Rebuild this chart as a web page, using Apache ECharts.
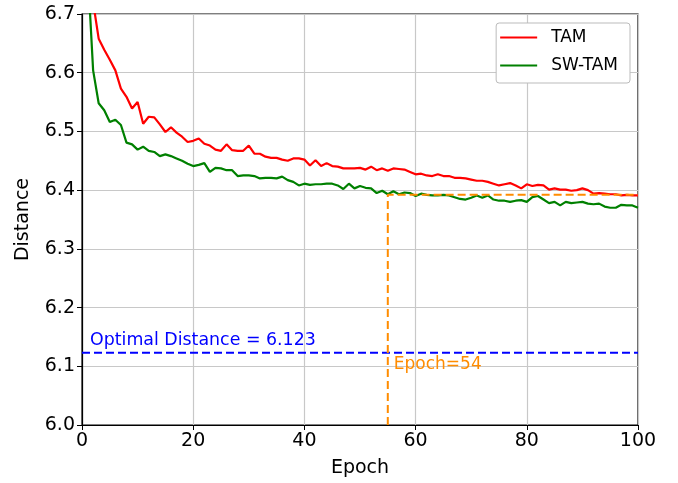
<!DOCTYPE html>
<html lang="en">
<head>
<meta charset="UTF-8">
<title>Distance vs Epoch</title>
<script src="https://cdn.jsdelivr.net/npm/echarts@6/dist/echarts.min.js"></script>
<style>
  body { margin: 0; background: #fff; }
  #main { width: 678px; height: 483px; }
</style>
</head>
<body>
<div id="main"></div>
<script>
// distance per epoch (epoch 1..100)
var tam = [
  6.80, 6.72, 6.658, 6.639, 6.622, 6.604, 6.573, 6.559, 6.539, 6.550,
  6.513, 6.525, 6.524, 6.512, 6.499, 6.507, 6.498, 6.491, 6.482, 6.484,
  6.488, 6.479, 6.476, 6.469, 6.467, 6.478, 6.468, 6.467, 6.467, 6.476,
  6.462, 6.462, 6.457, 6.455, 6.455, 6.452, 6.450, 6.454, 6.454, 6.452,
  6.442, 6.451, 6.441, 6.446, 6.441, 6.440, 6.437, 6.437, 6.437, 6.438,
  6.435, 6.440, 6.434, 6.437, 6.433, 6.437, 6.436, 6.435, 6.431, 6.427,
  6.428, 6.425, 6.424, 6.427, 6.424, 6.424, 6.421, 6.421, 6.420, 6.418,
  6.416, 6.416, 6.414, 6.411, 6.408, 6.410, 6.412, 6.408, 6.403, 6.410,
  6.407, 6.409, 6.408, 6.401, 6.403, 6.401, 6.401, 6.399, 6.400, 6.403,
  6.400, 6.394, 6.395, 6.394, 6.393, 6.393, 6.391, 6.392, 6.391, 6.391
];
var swTam = [
  6.78, 6.604, 6.548, 6.536, 6.516, 6.520, 6.511, 6.481, 6.478, 6.469,
  6.474, 6.467, 6.465, 6.458, 6.461, 6.458, 6.454, 6.450, 6.445, 6.441,
  6.443, 6.446, 6.431, 6.438, 6.437, 6.434, 6.434, 6.424, 6.425, 6.425,
  6.424, 6.420, 6.421, 6.421, 6.420, 6.423, 6.417, 6.414, 6.408, 6.411,
  6.409, 6.410, 6.410, 6.411, 6.411, 6.408, 6.402, 6.411, 6.403, 6.407,
  6.404, 6.403, 6.395, 6.399, 6.393, 6.398, 6.393, 6.396, 6.395, 6.390,
  6.394, 6.392, 6.391, 6.391, 6.392, 6.391, 6.388, 6.385, 6.384, 6.387,
  6.391, 6.387, 6.391, 6.384, 6.382, 6.382, 6.380, 6.382, 6.383, 6.380,
  6.388, 6.390, 6.384, 6.378, 6.380, 6.374, 6.380, 6.378, 6.379, 6.380,
  6.377, 6.376, 6.377, 6.372, 6.370, 6.370, 6.375, 6.374, 6.374, 6.370
];
var optimalDistance = 6.123;
var bestEpochX = 55;
var bestValue = 6.392;

function pairs(arr) {
  return arr.map(function (v, i) { return [i + 1, v]; });
}

var font = 'DejaVu Sans';
var chart = echarts.init(document.getElementById('main'));

var option = {
  backgroundColor: '#fff',
  animation: false,
  textStyle: { fontFamily: font },
  grid: {
    left: 82, right: 40, top: 14, bottom: 58,
    show: true, borderColor: '#000', borderWidth: 1.2
  },
  legend: {
    orient: 'vertical',
    right: 48, top: 23,
    data: ['TAM', 'SW-TAM'],
    icon: 'rect',
    itemWidth: 37, itemHeight: 2,
    itemGap: 11,
    padding: [6, 12, 9, 4],
    borderColor: '#bbb', borderWidth: 1, borderRadius: 3,
    backgroundColor: '#fff',
    formatter: '{t|{name}}',
    textStyle: {
      fontFamily: font, fontSize: 17, color: '#000',
      rich: { t: { fontFamily: font, fontSize: 17, color: '#000', padding: [0, 0, 0, 9] } }
    }
  },
  xAxis: {
    type: 'value', min: 0, max: 100, interval: 20,
    name: 'Epoch', nameLocation: 'middle', nameGap: 34,
    nameTextStyle: { fontFamily: font, fontSize: 19, color: '#000' },
    axisLine: { show: true, lineStyle: { color: '#000', width: 1.2 } },
    axisTick: { show: true, length: 5, lineStyle: { color: '#000' } },
    axisLabel: { fontFamily: font, fontSize: 19, color: '#000', margin: 7 },
    splitLine: { show: true, lineStyle: { color: '#c8c8c8', width: 1.2 } }
  },
  yAxis: {
    type: 'value', min: 6.0, max: 6.7, interval: 0.1,
    name: 'Distance', nameLocation: 'middle', nameGap: 49,
    nameTextStyle: { fontFamily: font, fontSize: 19, color: '#000' },
    axisLine: { show: true, lineStyle: { color: '#000', width: 1.2 } },
    axisTick: { show: true, length: 5, lineStyle: { color: '#000' } },
    axisLabel: {
      fontFamily: font, fontSize: 19, color: '#000', margin: 7,
      formatter: function (v) { return v.toFixed(1); }
    },
    splitLine: { show: true, lineStyle: { color: '#c8c8c8', width: 1.2 } }
  },
  series: [
    {
      name: 'TAM', type: 'line', data: pairs(tam),
      showSymbol: false, color: '#ff0000',
      lineStyle: { width: 2.2, color: '#ff0000' }, z: 3
    },
    {
      name: 'SW-TAM', type: 'line', data: pairs(swTam),
      showSymbol: false, color: '#008000',
      lineStyle: { width: 2.2, color: '#008000' }, z: 3
    },
    {
      name: 'optimal', type: 'line',
      data: [[0, optimalDistance], [100, optimalDistance]],
      showSymbol: false, silent: true,
      lineStyle: { width: 2, color: '#0000ff', type: [8, 4] }, z: 4
    },
    {
      name: 'best', type: 'line',
      data: [[bestEpochX, 6.0], [bestEpochX, bestValue], [100, bestValue]],
      showSymbol: false, silent: true,
      lineStyle: { width: 2, color: '#ff8c00', type: [8, 4] }, z: 4
    }
  ]
};
chart.setOption(option);

// text annotations placed through the axes
var pOpt = chart.convertToPixel({ gridIndex: 0 }, [0, optimalDistance]);
var pBest = chart.convertToPixel({ gridIndex: 0 }, [bestEpochX, optimalDistance]);
chart.setOption({
  graphic: [
    {
      type: 'text', x: pOpt[0] + 8, y: pOpt[1] - 4, z: 10,
      style: {
        text: 'Optimal Distance = ' + optimalDistance,
        fill: '#0000ff', font: '17.4px "DejaVu Sans"',
        textVerticalAlign: 'bottom'
      }
    },
    {
      type: 'text', x: pBest[0] + 6, y: pBest[1] + 3, z: 10,
      style: {
        text: 'Epoch=54',
        fill: '#ff8c00', font: '17px "DejaVu Sans"',
        textVerticalAlign: 'top'
      }
    }
  ]
});
</script>
</body>
</html>
